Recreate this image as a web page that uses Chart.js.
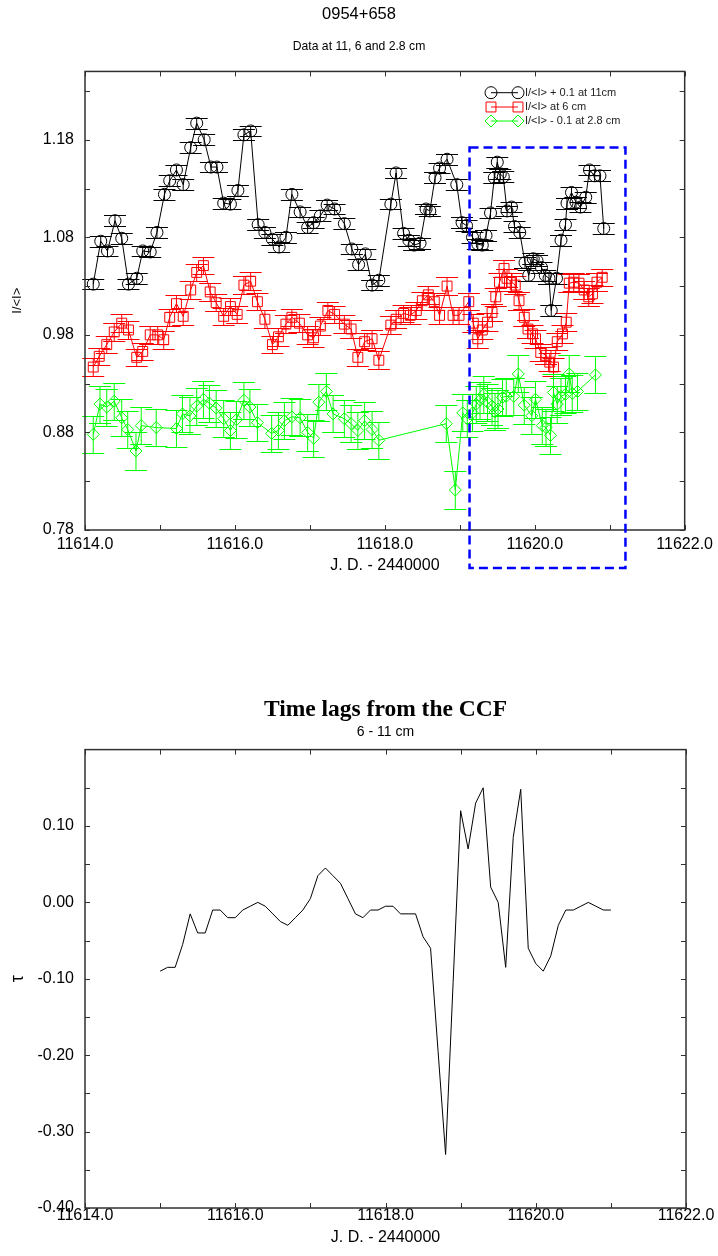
<!DOCTYPE html>
<html>
<head>
<meta charset="utf-8">
<script src="https://cdn.jsdelivr.net/npm/chart.js@4.4.1/dist/chart.umd.min.js"></script>
<style>
html,body{margin:0;padding:0;background:#fff;}
#wrap{position:relative;width:718px;height:1256px;overflow:hidden;}
canvas{position:absolute;left:0;}
</style>
</head>
<body>
<div id="wrap">
<canvas id="c1" width="718" height="600" style="top:0;width:718px;height:600px"></canvas>
<canvas id="c2" width="718" height="656" style="top:600px;width:718px;height:656px"></canvas>
</div>
<script>
// ---------- data: light curves ----------
const days11 = [11614.11,11614.21,11614.30,11614.40,11614.49,11614.58,11614.69,11614.77,11614.87,11614.96,
11615.06,11615.13,11615.22,11615.31,11615.41,11615.49,11615.59,11615.68,11615.76,11615.85,11615.94,
11616.04,11616.12,11616.21,11616.31,11616.40,11616.50,11616.59,11616.68,11616.76,11616.87,11616.97,
11617.05,11617.14,11617.23,11617.33,11617.46,11617.56,11617.65,11617.74,11617.83,11617.92,
11618.08,11618.15,11618.25,11618.32,11618.39,11618.47,11618.55,11618.60,11618.67,11618.73,11618.83,11618.96,
11619.03,11619.09,11619.17,11619.24,11619.30,11619.35,11619.41,11619.46,11619.50,11619.54,11619.58,11619.63,
11619.69,11619.73,11619.80,11619.87,11619.92,11619.98,11620.03,11620.09,11620.14,11620.19,11620.22,11620.29,
11620.35,11620.41,11620.43,11620.49,11620.55,11620.61,11620.68,11620.73,11620.80,11620.87,11620.92];
const flux11 = [1.032,1.076,1.066,1.097,1.079,1.032,1.038,1.066,1.065,1.085,
1.124,1.138,1.149,1.134,1.172,1.197,1.180,1.152,1.152,1.115,1.114,
1.128,1.185,1.189,1.093,1.085,1.078,1.070,1.080,1.124,1.106,1.090,
1.095,1.102,1.113,1.109,1.094,1.068,1.052,1.063,1.031,1.036,
1.114,1.146,1.084,1.077,1.072,1.074,1.109,1.107,1.141,1.151,1.160,1.134,
1.095,1.092,1.080,1.073,1.072,1.082,1.105,1.141,1.157,1.145,1.142,1.107,
1.111,1.091,1.085,1.054,1.041,1.058,1.056,1.049,1.041,1.038,1.005,1.038,
1.077,1.093,1.115,1.126,1.116,1.111,1.121,1.149,1.143,1.143,1.089];

const days6 = [11614.11,11614.19,11614.29,11614.39,11614.49,11614.58,11614.69,11614.77,11614.87,11614.97,
11615.05,11615.13,11615.22,11615.31,11615.41,11615.49,11615.58,11615.67,11615.75,11615.85,11615.94,
11616.03,11616.12,11616.21,11616.30,11616.40,11616.50,11616.58,11616.68,11616.76,11616.86,11616.97,
11617.05,11617.14,11617.24,11617.33,11617.46,11617.55,11617.64,11617.73,11617.83,11617.92,
11618.08,11618.15,11618.25,11618.34,11618.42,11618.50,11618.58,11618.66,11618.73,11618.83,11618.91,11618.99,
11619.12,11619.18,11619.24,11619.30,11619.37,11619.43,11619.48,11619.53,11619.59,11619.63,11619.69,11619.74,
11619.79,11619.86,11619.91,11619.97,11620.01,11620.08,11620.15,11620.20,11620.25,11620.30,11620.37,11620.42,
11620.46,11620.52,11620.59,11620.66,11620.72,11620.77,11620.83,11620.90];
const flux6 = [0.947,0.958,0.970,0.983,0.992,0.985,0.957,0.963,0.980,0.980,
0.975,0.998,1.012,0.999,1.026,1.044,1.051,1.024,1.013,0.999,1.009,
1.001,1.031,1.035,1.014,0.996,0.970,0.978,0.991,0.998,0.992,0.980,
0.977,0.989,1.005,1.001,0.991,0.986,0.957,0.973,0.976,0.954,
0.990,0.996,1.002,1.000,1.005,1.015,1.021,1.014,1.000,1.030,1.000,1.000,
1.014,0.992,0.976,0.985,0.993,1.003,1.019,1.034,1.048,1.038,1.034,1.031,
1.015,0.998,0.986,0.981,0.976,0.962,0.959,0.952,0.947,0.973,0.981,0.993,
1.033,1.034,1.033,1.026,1.019,1.022,1.034,1.039];

const days28 = [11614.11,11614.20,11614.29,11614.39,11614.49,11614.57,11614.68,11614.75,11614.95,
11615.22,11615.30,11615.40,11615.49,11615.58,11615.66,11615.75,11615.85,11615.94,
11616.02,11616.12,11616.20,11616.30,11616.49,11616.58,11616.66,11616.76,11616.87,11616.97,
11617.05,11617.12,11617.22,11617.31,11617.46,11617.55,11617.64,11617.73,11617.83,11617.92,
11618.82,11618.94,11619.04,11619.10,11619.17,11619.22,11619.27,11619.32,11619.37,11619.43,
11619.47,11619.51,11619.57,11619.62,11619.72,11619.78,11619.86,11619.96,11620.01,11620.10,
11620.15,11620.21,11620.25,11620.30,11620.35,11620.41,11620.46,11620.50,11620.57,11620.81];
const flux28 = [0.878,0.909,0.906,0.912,0.895,0.883,0.861,0.887,0.885,
0.884,0.899,0.897,0.907,0.914,0.910,0.905,0.894,0.882,
0.893,0.913,0.906,0.890,0.879,0.882,0.892,0.896,0.895,0.880,
0.874,0.911,0.922,0.899,0.894,0.889,0.882,0.892,0.883,0.872,
0.889,0.821,0.900,0.894,0.900,0.909,0.913,0.919,0.911,0.907,
0.901,0.904,0.916,0.917,0.917,0.940,0.908,0.897,0.914,0.887,
0.885,0.877,0.921,0.909,0.917,0.919,0.940,0.920,0.922,0.939];

// error bar half-lengths (I/<I> units)
const err11 = 0.0055;
const err6 = 0.009;
const err28 = 0.019;

const seriesLabels = ['I/<I> + 0.1 at 11cm', 'I/<I> at 6 cm', 'I/<I> - 0.1 at 2.8 cm'];

// highlighted interval (dashed box), in data units
const boxDays = [11619.13, 11621.21];
const boxFlux = [0.741, 1.172];

// ---------- data: CCF time lags ----------
const lagDays = [11615.0,11615.1,11615.2,11615.3,11615.4,11615.5,11615.6,11615.7,11615.8,11615.9,
11616.0,11616.1,11616.2,11616.3,11616.4,11616.5,11616.6,11616.7,11616.8,11616.9,
11617.0,11617.1,11617.2,11617.3,11617.4,11617.5,11617.6,11617.7,11617.8,11617.9,
11618.0,11618.1,11618.2,11618.3,11618.4,11618.5,11618.6,11618.7,11618.8,11618.9,
11619.0,11619.1,11619.2,11619.3,11619.4,11619.5,11619.6,11619.7,11619.8,11619.9,
11620.0,11620.1,11620.2,11620.3,11620.4,11620.5,11620.6,11620.7,11620.8,11620.9,11621.0];
const lagTau = [-0.090,-0.085,-0.085,-0.055,-0.015,-0.040,-0.040,-0.010,-0.010,-0.020,
-0.020,-0.010,-0.005,0.000,-0.005,-0.015,-0.025,-0.030,-0.020,-0.010,
0.005,0.035,0.045,0.035,0.025,0.005,-0.015,-0.020,-0.010,-0.010,
-0.005,-0.005,-0.015,-0.015,-0.015,-0.045,-0.060,-0.195,-0.330,-0.105,
0.120,0.070,0.130,0.150,0.020,0.000,-0.085,0.085,0.148,-0.060,
-0.080,-0.090,-0.070,-0.030,-0.010,-0.010,-0.005,0.000,-0.005,-0.010,-0.010];

// ---------- ticks ----------
const xTicks = [11614,11615,11616,11617,11618,11619,11620,11621,11622];
const yTicksFlux = [0.78,0.83,0.88,0.93,0.98,1.03,1.08,1.13,1.18,1.23];
const yTicksTau = [-0.40,-0.35,-0.30,-0.25,-0.20,-0.15,-0.10,-0.05,0.00,0.05,0.10,0.15];

// ---------- helpers ----------
const SANS = "'Liberation Sans', Arial, Helvetica, sans-serif";
const SERIF = "'Liberation Serif', 'Times New Roman', serif";
const zip = (xs, ys) => xs.map((x, i) => ({x: x, y: ys[i]}));

const frameTicks = {
  id: 'frameTicks',
  afterDraw(chart) {
    const {ctx, chartArea: a, scales: {x, y}} = chart;
    ctx.save();
    ctx.strokeStyle = '#303030';
    ctx.lineWidth = 1;
    ctx.beginPath();
    x.ticks.forEach(t => {
      const px = Math.round(x.getPixelForValue(t.value)) + 0.5;
      ctx.moveTo(px, a.bottom); ctx.lineTo(px, a.bottom - 5);
      ctx.moveTo(px, a.top); ctx.lineTo(px, a.top + 5);
    });
    y.ticks.forEach(t => {
      const py = Math.round(y.getPixelForValue(t.value)) + 0.5;
      ctx.moveTo(a.left, py); ctx.lineTo(a.left + 5, py);
      ctx.moveTo(a.right, py); ctx.lineTo(a.right - 5, py);
    });
    ctx.stroke();
    ctx.lineWidth = 1.5;
    ctx.strokeRect(a.left, a.top, a.right - a.left, a.bottom - a.top);
    ctx.restore();
  }
};

const errorBars = {
  id: 'errorBars',
  beforeDatasetsDraw(chart) {
    const {ctx, scales: {x, y}} = chart;
    const errs = [err11, err6, err28];
    ctx.save();
    ctx.lineWidth = 1;
    chart.data.datasets.forEach((ds, i) => {
      const e = errs[i];
      ctx.strokeStyle = ds.borderColor;
      ctx.beginPath();
      ds.data.forEach(p => {
        const px = x.getPixelForValue(p.x);
        const y1 = Math.round(y.getPixelForValue(p.y + e)) + 0.5;
        const y2 = Math.round(y.getPixelForValue(p.y - e)) + 0.5;
        ctx.moveTo(px, y1); ctx.lineTo(px, y2);
        ctx.moveTo(px - 11, y1); ctx.lineTo(px + 11, y1);
        ctx.moveTo(px - 11, y2); ctx.lineTo(px + 11, y2);
      });
      ctx.stroke();
    });
    ctx.restore();
  }
};

function marker(ctx, style, cx, cy, r) {
  ctx.beginPath();
  if (style === 'circle') {
    ctx.arc(cx, cy, r, 0, Math.PI * 2);
  } else if (style === 'rect') {
    const s = r * Math.SQRT1_2;
    ctx.rect(cx - s, cy - s, 2 * s, 2 * s);
  } else {
    ctx.moveTo(cx - r, cy); ctx.lineTo(cx, cy - r); ctx.lineTo(cx + r, cy); ctx.lineTo(cx, cy + r); ctx.closePath();
  }
  ctx.stroke();
}

const lcLegend = {
  id: 'lcLegend',
  afterDraw(chart) {
    const ctx = chart.ctx;
    const rows = [92.7, 107, 121];
    ctx.save();
    chart.data.datasets.forEach((ds, i) => {
      const yy = rows[i];
      ctx.strokeStyle = ds.borderColor;
      ctx.lineWidth = 1;
      ctx.beginPath(); ctx.moveTo(491, yy); ctx.lineTo(518, yy); ctx.stroke();
      marker(ctx, ds.pointStyle, 491, yy, ds.pointRadius);
      marker(ctx, ds.pointStyle, 518, yy, ds.pointRadius);
      ctx.fillStyle = '#222';
      ctx.font = '11px ' + SANS;
      ctx.textAlign = 'left';
      ctx.textBaseline = 'middle';
      ctx.fillText(ds.label, 525, yy);
    });
    ctx.restore();
  }
};

const dashedBox = {
  id: 'dashedBox',
  afterDraw(chart) {
    const {ctx, scales: {x, y}} = chart;
    const l = x.getPixelForValue(boxDays[0]), r = x.getPixelForValue(boxDays[1]);
    const t = y.getPixelForValue(boxFlux[1]), b = y.getPixelForValue(boxFlux[0]);
    ctx.save();
    ctx.strokeStyle = '#0000ff';
    ctx.lineWidth = 2.5;
    ctx.setLineDash([9, 5]);
    ctx.strokeRect(l, t, r - l, b - t);
    ctx.restore();
  }
};

function xScale(labelPad, titlePadBottom, height) {
  return {
    type: 'linear', min: 11614, max: 11622,
    afterBuildTicks: s => { s.ticks = xTicks.map(v => ({value: v})); },
    afterFit: s => { s.height = height; },
    grid: {display: false, drawTicks: false},
    border: {display: false},
    ticks: {
      autoSkip: false, maxRotation: 0, minRotation: 0, padding: labelPad, color: '#000',
      font: {family: SANS, size: 16},
      callback: v => (v % 2 === 0 ? v.toFixed(1) : '')
    },
    title: {display: true, text: 'J. D. - 2440000', color: '#000',
      font: {family: SANS, size: 16}, padding: {top: 0, bottom: titlePadBottom}}
  };
}

function yScale(min, max, tickVals, titleText, titleSize, titlePad) {
  return {
    type: 'linear', min: min, max: max,
    afterBuildTicks: s => { s.ticks = tickVals.map(v => ({value: v})); },
    afterFit: s => { s.width = 85; },
    grid: {display: false, drawTicks: false},
    border: {display: false},
    ticks: {
      autoSkip: false, padding: 11, color: '#000',
      font: {family: SANS, size: 16},
      callback: (v, i) => (i % 2 === 0 ? v.toFixed(2) : '')
    },
    title: {display: true, text: titleText, color: '#000',
      font: {family: SANS, size: titleSize}, padding: {top: titlePad, bottom: 0}}
  };
}

// empty right-hand axis that only reserves the right margin
const rightMargin = {
  type: 'linear', position: 'right', display: true,
  afterFit: s => { s.width = 32; },
  grid: {display: false, drawTicks: false},
  border: {display: false},
  ticks: {display: false}
};

const common = {
  responsive: false, animation: false, events: [],
  layout: {padding: 0}
};

// ---------- chart 1: light curves ----------
new Chart(document.getElementById('c1'), {
  type: 'scatter',
  data: {
    datasets: [
      {label: seriesLabels[0], data: zip(days11, flux11), showLine: true, borderColor: '#000000', borderWidth: 1,
       pointStyle: 'circle', pointRadius: 6, pointBorderWidth: 1, pointBorderColor: '#000000', pointBackgroundColor: 'rgba(0,0,0,0)'},
      {label: seriesLabels[1], data: zip(days6, flux6), showLine: true, borderColor: '#ff0000', borderWidth: 1,
       pointStyle: 'rect', pointRadius: 7, pointBorderWidth: 1, pointBorderColor: '#ff0000', pointBackgroundColor: 'rgba(0,0,0,0)'},
      {label: seriesLabels[2], data: zip(days28, flux28), showLine: true, borderColor: '#00ff00', borderWidth: 1,
       pointStyle: 'rectRot', pointRadius: 6, pointBorderWidth: 1, pointBorderColor: '#00ff00', pointBackgroundColor: 'rgba(0,0,0,0)'}
    ]
  },
  options: Object.assign({}, common, {
    scales: {
      x: xScale(5, 24.4, 70),
      y: yScale(0.78, 1.25, yTicksFlux, 'I/<I>', 13, 9.2),
      yr: rightMargin
    },
    plugins: {
      legend: {display: false}, tooltip: {enabled: false},
      title: {display: true, text: '0954+658', color: '#000', font: {family: SANS, size: 16.5, weight: 'normal'}, padding: {top: 5, bottom: 0}},
      subtitle: {display: true, text: 'Data at 11, 6 and 2.8 cm', color: '#000', font: {family: SANS, size: 12.2}, padding: {top: 15, bottom: 17}}
    }
  }),
  plugins: [errorBars, frameTicks, lcLegend, dashedBox]
});

// ---------- chart 2: CCF time lags ----------
new Chart(document.getElementById('c2'), {
  type: 'scatter',
  data: {
    datasets: [
      {label: 'tau', data: zip(lagDays, lagTau), showLine: true, borderColor: '#000000', borderWidth: 1, pointRadius: 0}
    ]
  },
  options: Object.assign({}, common, {
    scales: {
      x: xScale(-2, 8.4, 48),
      y: yScale(-0.40, 0.20, yTicksTau, 'τ', 18, 7.2),
      yr: rightMargin
    },
    plugins: {
      legend: {display: false}, tooltip: {enabled: false},
      title: {display: true, fullSize: false, text: 'Time lags from the CCF', color: '#000', font: {family: SERIF, size: 23.5, weight: 'bold'}, padding: {top: 96, bottom: 0}},
      subtitle: {display: true, fullSize: false, text: '6 - 11 cm', color: '#000', font: {family: SANS, size: 14}, padding: {top: 0, bottom: 8.6}}
    }
  }),
  plugins: [frameTicks]
});
</script>
</body>
</html>
